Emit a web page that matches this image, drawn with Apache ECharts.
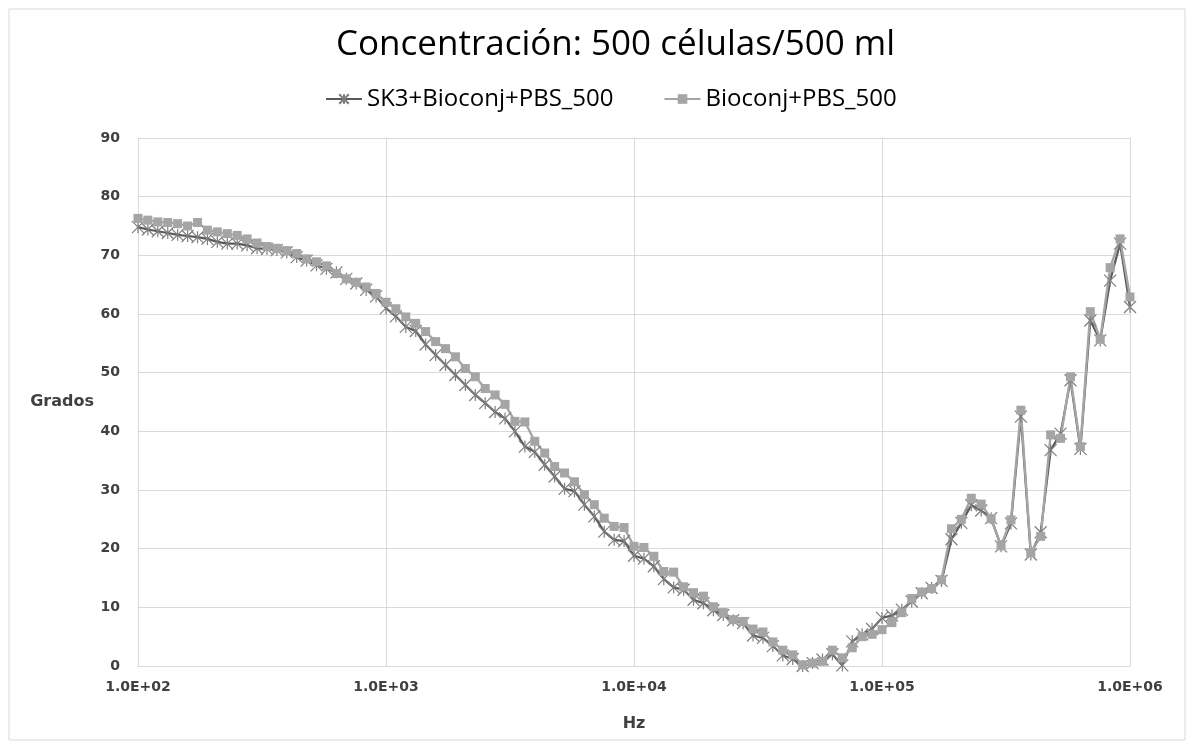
<!DOCTYPE html>
<html>
<head>
<meta charset="utf-8">
<script src="https://cdn.jsdelivr.net/npm/echarts@6/dist/echarts.min.js"></script>
<style>
  html, body { margin: 0; padding: 0; background: #fff; }
  #chart { width: 1195px; height: 750px; }
</style>
</head>
<body>
<div id="chart"></div>
<script>
// frecuencias (Hz), barrido logaritmico 100 Hz - 1 MHz
var freq = [
  100, 109.6, 120.2, 131.8, 144.5, 158.5, 173.8, 190.5, 208.9, 229.1, 251.2, 275.4, 302.0, 331.1, 363.1, 398.1, 436.5, 478.6, 524.8, 575.4, 631.0, 691.8, 758.6, 831.8, 912.0,
  1000, 1096, 1202, 1318, 1445, 1585, 1738, 1905, 2089, 2291, 2512, 2754, 3020, 3311, 3631, 3981, 4365, 4786, 5248, 5754, 6310, 6918, 7586, 8318, 9120,
  10000, 10965, 12023, 13183, 14454, 15849, 17378, 19055, 20893, 22909, 25119, 27542, 30200, 33113, 36308, 39811, 43652, 47863, 52481, 57544, 63096, 69183, 75858, 83176, 91201,
  100000, 109648, 120226, 131826, 144544, 158489, 173780, 190546, 208930, 229087, 251189, 275423, 301995, 331131, 363078, 398107, 436516, 478630, 524807, 575440, 630957, 691831, 758578, 831764, 912011,
  1000000
];

// SK3+Bioconj+PBS_500 (grados)
var sk3 = [
  74.8, 74.4, 74.1, 73.8, 73.5, 73.3, 73.1, 72.8, 72.3, 72.0, 72.0, 71.7, 71.2, 71.1, 70.9, 70.5, 69.7, 69.1, 68.3, 67.7, 67.1, 66.0, 65.2, 64.1, 63.0,
  61.0, 59.6, 57.8, 57.1, 54.8, 53.0, 51.3, 49.6, 47.9, 46.2, 44.8, 43.3, 42.2, 40.0, 37.4, 36.5, 34.3, 32.3, 30.2, 29.8, 27.5, 25.5, 22.9, 21.5, 21.3,
  18.8, 18.3, 17.0, 14.8, 13.4, 13.0, 11.3, 10.7, 9.5, 8.7, 7.8, 7.3, 5.2, 4.8, 3.4, 1.8, 1.2, 0.0, 0.5, 1.1, 2.0, 0.1, 4.2, 5.4, 6.3,
  8.2, 8.6, 9.6, 11.0, 12.4, 13.3, 14.5, 21.6, 24.4, 27.4, 26.5, 25.2, 20.4, 24.3, 42.5, 19.0, 22.8, 36.8, 39.6, 48.7, 37.0, 58.9, 55.5, 65.7, 72.0,
  61.2
];

// Bioconj+PBS_500 (grados)
var bioconj = [
  76.3, 76.0, 75.7, 75.6, 75.4, 75.0, 75.6, 74.3, 74.0, 73.7, 73.4, 72.8, 72.1, 71.5, 71.2, 70.8, 70.3, 69.4, 68.9, 68.2, 66.9, 66.0, 65.4, 64.6, 63.5,
  62.0, 60.9, 59.5, 58.4, 57.0, 55.3, 54.1, 52.7, 50.7, 49.3, 47.3, 46.2, 44.6, 41.7, 41.6, 38.3, 36.3, 34.0, 32.9, 31.4, 29.2, 27.5, 25.2, 23.8, 23.6,
  20.4, 20.2, 18.7, 16.1, 16.0, 13.5, 12.5, 11.9, 10.1, 9.1, 7.9, 7.6, 6.3, 5.8, 4.1, 2.7, 1.9, 0.2, 0.5, 0.8, 2.7, 1.4, 3.1, 5.0, 5.4,
  6.2, 7.4, 9.1, 11.5, 12.6, 13.2, 14.7, 23.4, 25.0, 28.6, 27.6, 25.1, 20.5, 24.9, 43.6, 19.3, 22.1, 39.4, 38.8, 49.3, 37.4, 60.4, 55.7, 67.9, 72.8,
  62.9
];

var seriesNames = ["SK3+Bioconj+PBS_500", "Bioconj+PBS_500"];

var chart = echarts.init(document.getElementById("chart"));

function pairs(vals) {
  return freq.map(function (f, i) { return [f, vals[i]]; });
}

var axisFont = {
  fontFamily: "DejaVu Sans",
  fontWeight: "bold",
  fontSize: 14,
  color: "#404040"
};

var nameFont = {
  fontFamily: "DejaVu Sans",
  fontWeight: "bold",
  fontSize: 16,
  color: "#404040"
};

option = {
  backgroundColor: "#fff",
  animation: false,
  title: {
    text: "Concentración: 500 células/500 ml",
    left: 331,
    top: 23,
    textStyle: {
      fontFamily: "Open Sans",
      fontWeight: "normal",
      fontSize: 35,
      color: "#000"
    }
  },
  legend: {
    top: 82,
    left: 320,
    itemGap: 50,
    itemWidth: 36,
    itemHeight: 12,
    textStyle: {
      fontFamily: "Open Sans",
      fontSize: 24,
      color: "#000"
    },
    data: seriesNames
  },
  grid: {
    left: 138,
    right: 65,
    top: 138,
    bottom: 84
  },
  xAxis: {
    type: "log",
    logBase: 10,
    min: 100,
    max: 1000000,
    name: "Hz",
    nameLocation: "middle",
    nameGap: 50,
    nameTextStyle: nameFont,
    axisLine: { show: true, lineStyle: { color: "#d9d9d9" } },
    axisTick: { show: false },
    splitLine: { show: true, lineStyle: { color: "#d9d9d9", width: 1 } },
    axisLabel: Object.assign({}, axisFont, {
      margin: 14,
      formatter: function (v) {
        var e = Math.round(Math.log(v) / Math.LN10);
        return "1.0E+" + (e < 10 ? "0" + e : e);
      }
    })
  },
  yAxis: {
    type: "value",
    min: 0,
    max: 90,
    interval: 10,
    name: "Grados",
    nameLocation: "middle",
    nameRotate: 0,
    nameGap: 44,
    nameTextStyle: nameFont,
    axisLine: { show: true, lineStyle: { color: "#d9d9d9" } },
    axisTick: { show: false },
    splitLine: { lineStyle: { color: "#d9d9d9", width: 1 } },
    axisLabel: Object.assign({}, axisFont, { margin: 18 })
  },
  graphic: [
    {
      type: "rect",
      shape: { x: 9, y: 9, width: 1176, height: 731 },
      style: { fill: "none", stroke: "#d9d9d9", lineWidth: 1 },
      silent: true
    }
  ],
  series: [
    {
      name: seriesNames[0],
      type: "line",
      data: pairs(sk3),
      symbol: "path://M5,0L5,10M0,0L10,10M0,10L10,0",
      symbolSize: 12,
      lineStyle: { color: "#595959", width: 2.2 },
      itemStyle: { color: "#7f7f7f", borderColor: "#7f7f7f", borderWidth: 1.2 }
    },
    {
      name: seriesNames[1],
      type: "line",
      data: pairs(bioconj),
      symbol: "rect",
      symbolSize: 9,
      lineStyle: { color: "#a5a5a5", width: 2.4 },
      itemStyle: { color: "#a5a5a5", borderWidth: 0 }
    }
  ]
};

chart.setOption(option);
</script>
</body>
</html>
